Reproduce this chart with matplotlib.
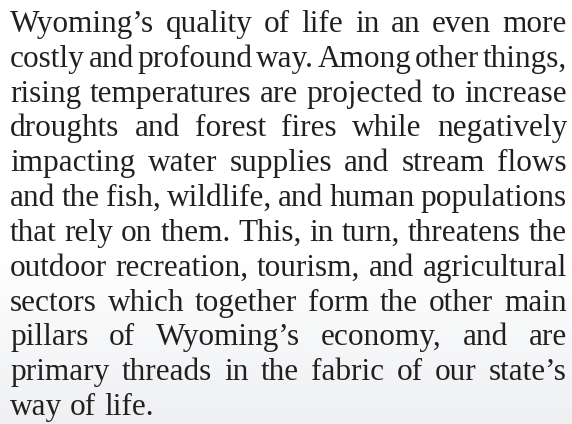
import numpy as np
import matplotlib
matplotlib.use("Agg")
import matplotlib.pyplot as plt

# Zeilen des Absatzes (Blocksatz, letzte Zeile linksbündig)
lines = [
    "Wyoming’s quality of life in an even more",
    "costly and profound way. Among other things,",
    "rising temperatures are projected to increase",
    "droughts and forest fires while negatively",
    "impacting water supplies and stream flows",
    "and the fish, wildlife, and human populations",
    "that rely on them. This, in turn, threatens the",
    "outdoor recreation, tourism, and agricultural",
    "sectors which together form the other main",
    "pillars of Wyoming’s economy, and are",
    "primary threads in the fabric of our state’s",
    "way of life.",
]

W, H = 572, 424
left, right = 10, 567
first_base, last_base = 32, 415
fsize = 22.5
color = "#231f20"
family = ["Liberation Serif", "DejaVu Serif"]

fig = plt.figure(figsize=(W / 100, H / 100), dpi=100)

# heller Grauverlauf unten
bg = fig.add_axes([0, 0, 1, 1])
bg.set_axis_off()
rows = np.linspace(0, 1, H)
shade = np.clip((rows - 0.6) / 0.4, 0, 1)
grad = np.ones((H, 1, 3))
grad[:, 0, 0] = 1 - shade * 0.068
grad[:, 0, 1] = 1 - shade * 0.060
grad[:, 0, 2] = 1 - shade * 0.052
bg.imshow(grad, aspect="auto", extent=[0, 1, 1, 0])
bg.set_xlim(0, 1)
bg.set_ylim(1, 0)

renderer = fig.canvas.get_renderer()
step = (last_base - first_base) / (len(lines) - 1)

space = fig.text(0, 0, "a a", fontsize=fsize, family=family)
aa = fig.text(0, 0, "aa", fontsize=fsize, family=family)
space_w = space.get_window_extent(renderer).width - aa.get_window_extent(renderer).width
space.remove()
aa.remove()

for i, line in enumerate(lines):
    words = line.split(" ")
    y = 1 - (first_base + i * step) / H
    texts = [fig.text(0, y, w, fontsize=fsize, family=family, color=color,
                      va="baseline", ha="left") for w in words]
    widths = [t.get_window_extent(renderer).width for t in texts]
    if i == len(lines) - 1:
        gap = space_w
    else:
        gap = (right - left - sum(widths)) / (len(words) - 1)
    x = left
    for t, w in zip(texts, widths):
        t.set_x(x / W)
        x += w + gap

fig.savefig("out.png", dpi=100)
